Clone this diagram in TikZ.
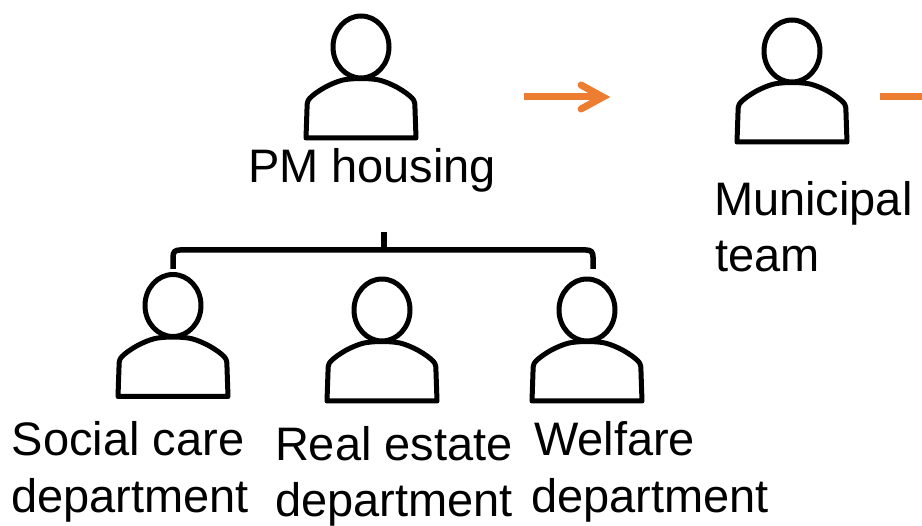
\documentclass[tikz,border=0pt]{standalone}
\usepackage{fontspec}
\setmainfont{Liberation Sans}
\definecolor{arroworange}{HTML}{ED7D31}
\tikzset{
  lbl/.style={anchor=base west,inner sep=0pt,outer sep=0pt,font=\fontsize{47}{56}\selectfont,text=black},
  iconline/.style={draw=black,line width=5pt,line join=round,line cap=round},
  bracketline/.style={draw=black,line width=5.5pt,line join=round},
  orangeline/.style={draw=arroworange,line width=7pt},
  person/.pic={
    \draw[iconline] (0,0) ellipse [x radius=28,y radius=31];
    \draw[iconline] (-18,33) .. controls (-30,36) and (-44,44) .. (-51,51)
       .. controls (-54,54) and (-54,57) .. (-54,62) -- (-55,91) -- (55,91) -- (54,62)
       .. controls (54,57) and (54,54) .. (51,51)
       .. controls (44,44) and (30,36) .. (18,33)
       .. controls (8,31) and (-8,31) .. (-18,33) -- cycle;
  }
}
\begin{document}
\begin{tikzpicture}[x=1pt,y=-1pt]
\useasboundingbox (0,0) rectangle (922,526);
\pic at (361,47) {person};
\pic at (792,51) {person};
\pic at (173,305.5) {person};
\pic at (382,310) {person};
\pic at (587,310) {person};
\node[lbl] (pm) at (248,183) {PM housing};
\node[lbl] (mun) at (714,215.5) {Municipal};
\node[lbl] (team) at (715,271.5) {team};
\node[lbl] (soc) at (12,456) {Social care};
\node[lbl] (socd) at (11,512.5) {department};
\node[lbl] (real) at (275,461) {Real estate};
\node[lbl] (reald) at (275,516.5) {department};
\node[lbl] (wel) at (534,456) {Welfare};
\node[lbl] (weld) at (531,512.5) {department};
\coordinate (stemtop) at (384,232);
\coordinate (stemfoot) at (384,250);
\coordinate (brl) at (173,269);
\coordinate (brr) at (593,269);
\coordinate (a1) at (524,97);
\coordinate (a2) at (600,97);
\coordinate (atip) at (609,97);
\coordinate (b1) at (880,97);
\coordinate (b2) at (922,97);
\draw[bracketline] (stemtop) -- (stemfoot);
\draw[bracketline] (brl) -- (173,257) .. controls (173,252) and (175,250) .. (180,250)
   -- (586,250) .. controls (591,250) and (593,252) .. (593,257) -- (brr);
\draw[orangeline] (a1) -- (a2);
\draw[draw=arroworange,line width=7pt,line join=miter,line cap=round]
   (581,85) -- (603,97) -- (581,109);
\fill[arroworange] (594,91) -- (atip) -- (594,103) -- cycle;
\draw[orangeline] (b1) -- (b2);
\end{tikzpicture}
\end{document}
